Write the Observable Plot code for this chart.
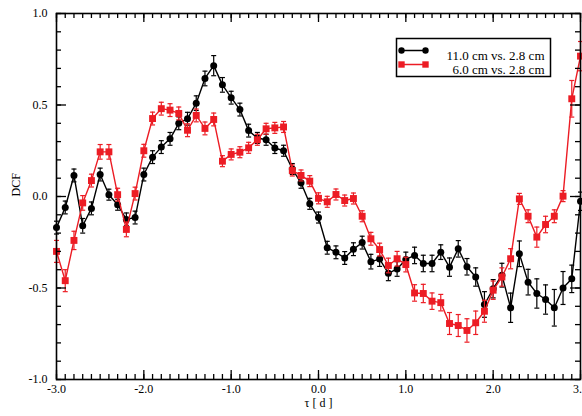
<!DOCTYPE html>
<html><head><meta charset="utf-8">
<script src="https://cdn.jsdelivr.net/npm/d3@7"></script>
<script src="https://cdn.jsdelivr.net/npm/@observablehq/plot@0.6"></script>
<style>
body{margin:0;background:#fff;}
#chart svg{font-family:'Liberation Serif', serif; font-size:12px;}
</style></head><body><div id="chart"></div>
<script>
const tau = [-3.0,-2.9,-2.8,-2.7,-2.6,-2.5,-2.4,-2.3,-2.2,-2.1,-2.0,-1.9,-1.8,-1.7,-1.6,-1.5,-1.4,-1.3,-1.2,-1.1,-1.0,-0.9,-0.8,-0.7,-0.6,-0.5,-0.4,-0.3,-0.2,-0.1,0.0,0.1,0.2,0.3,0.4,0.5,0.6,0.7,0.8,0.9,1.0,1.1,1.2,1.3,1.4,1.5,1.6,1.7,1.8,1.9,2.0,2.1,2.2,2.3,2.4,2.5,2.6,2.7,2.8,2.9,3.0];
const dcf11 = [-0.17,-0.06,0.115,-0.16,-0.065,0.12,0.01,-0.045,-0.125,-0.115,0.12,0.215,0.27,0.315,0.40,0.425,0.51,0.645,0.715,0.61,0.54,0.475,0.36,0.32,0.31,0.265,0.25,0.15,0.075,-0.04,-0.115,-0.28,-0.305,-0.336,-0.288,-0.252,-0.356,-0.342,-0.42,-0.396,-0.344,-0.322,-0.366,-0.366,-0.304,-0.386,-0.286,-0.384,-0.44,-0.59,-0.504,-0.43,-0.608,-0.313,-0.468,-0.53,-0.563,-0.608,-0.50,-0.45,-0.026];
const err11 = [0.035,0.035,0.035,0.04,0.035,0.035,0.03,0.03,0.035,0.035,0.035,0.035,0.035,0.035,0.035,0.035,0.04,0.04,0.055,0.04,0.035,0.035,0.035,0.03,0.03,0.03,0.03,0.03,0.03,0.03,0.03,0.035,0.035,0.035,0.035,0.035,0.04,0.04,0.04,0.04,0.04,0.045,0.045,0.045,0.04,0.05,0.045,0.045,0.05,0.07,0.05,0.065,0.08,0.07,0.07,0.08,0.08,0.1,0.09,0.075,0.05];
const dcf6 = [-0.30,-0.46,-0.24,-0.035,0.087,0.244,0.244,0.01,-0.18,0.016,0.25,0.426,0.48,0.472,0.454,0.362,0.443,0.372,0.421,0.193,0.23,0.242,0.266,0.31,0.37,0.375,0.38,0.142,0.115,0.084,-0.01,-0.029,0.011,-0.022,-0.011,-0.108,-0.231,-0.29,-0.377,-0.34,-0.372,-0.527,-0.53,-0.572,-0.58,-0.694,-0.705,-0.732,-0.69,-0.627,-0.512,-0.44,-0.34,-0.013,-0.108,-0.222,-0.153,-0.108,0.002,0.534,0.767];
const err6 = [0.06,0.06,0.05,0.04,0.035,0.04,0.04,0.035,0.04,0.035,0.035,0.035,0.035,0.035,0.035,0.035,0.035,0.035,0.035,0.03,0.03,0.03,0.03,0.03,0.03,0.03,0.03,0.03,0.03,0.03,0.03,0.03,0.03,0.03,0.03,0.03,0.035,0.035,0.04,0.04,0.04,0.045,0.05,0.045,0.045,0.06,0.06,0.064,0.064,0.06,0.05,0.05,0.055,0.03,0.035,0.055,0.045,0.035,0.03,0.1,0.08];
const seriesNames = ["11.0 cm vs. 2.8 cm", "6.0 cm vs. 2.8 cm"];
const xTickValues = [-3,-2,-1,0,1,2,3];
const xTickLabels = ["-3.0","-2.0","-1.0","0.0","1.0","2.0","3.0"];
const yTickValues = [1,0.5,0,-0.5,-1];
const yTickLabels = ["1.0","0.5","0.0","-0.5","-1.0"];
const xLabel = "τ [ d ]";
const yLabel = "DCF";

const BLACK = "black";
const RED = "#ec1c24";

const W = 582, H = 416, MT = 13, MR = 2, MB = 37, ML = 56;
const FW = W - ML - MR, FH = H - MT - MB;

const rows11 = tau.map((t,i)=>({tau:t, dcf:dcf11[i], err:err11[i]}));
const rows6 = tau.map((t,i)=>({tau:t, dcf:dcf6[i], err:err6[i]}));
const xMinor = d3.range(-30, 31).map(k=>k/10);
const yMinor = d3.range(-10, 11).map(k=>k/10);

const lineShape = {draw(ctx, l){ ctx.moveTo(0,0); ctx.lineTo(0,-l); }};
const capSymbol = {draw(ctx){ ctx.moveTo(-2.5,0); ctx.lineTo(2.5,0); }};

function errMarks(rows, color){
  return [
    Plot.ruleX(rows, {x:"tau", y1:d=>d.dcf-d.err, y2:d=>d.dcf+d.err, stroke:color, strokeWidth:1.2}),
    Plot.dot(rows, {x:"tau", y:d=>d.dcf+d.err, symbol:capSymbol, stroke:color, fill:"none", strokeWidth:1.2, r:3}),
    Plot.dot(rows, {x:"tau", y:d=>d.dcf-d.err, symbol:capSymbol, stroke:color, fill:"none", strokeWidth:1.2, r:3})
  ];
}
function xTicks(values, len){
  return [
    Plot.ruleX(values, {x:d=>d, insetTop:FH-len, stroke:"black", strokeWidth:1.3}),
    Plot.ruleX(values, {x:d=>d, insetBottom:FH-len, stroke:"black", strokeWidth:1.3})
  ];
}
function yTicks(values, len){
  return [
    Plot.ruleY(values, {y:d=>d, insetRight:FW-len, stroke:"black", strokeWidth:1.3}),
    Plot.ruleY(values, {y:d=>d, insetLeft:FW-len, stroke:"black", strokeWidth:1.3})
  ];
}

const chart = Plot.plot({
  width:W, height:H,
  marginTop:MT, marginRight:MR, marginBottom:MB, marginLeft:ML,
  x:{domain:[-3,3], axis:null},
  y:{domain:[-1,1], axis:null},
  marks:[
    Plot.text(xTickValues, {x:d=>d, text:(d,i)=>xTickLabels[i], frameAnchor:"bottom", dy:13, fill:"black"}),
    Plot.text(yTickValues, {y:d=>d, text:(d,i)=>yTickLabels[i], frameAnchor:"left", dx:-9, textAnchor:"end", fill:"black"}),
    Plot.text([xLabel], {frameAnchor:"bottom", dy:27, fill:"black"}),
    Plot.text([yLabel], {frameAnchor:"left", dx:-40, rotate:-90, fill:"black"}),
    // series 11.0 cm (black)
    ...errMarks(rows11, BLACK),
    Plot.line(rows11, {x:"tau", y:"dcf", stroke:BLACK, strokeWidth:1.4}),
    Plot.dot(rows11, {x:"tau", y:"dcf", r:3.5, fill:BLACK, stroke:"none"}),
    // series 6.0 cm (red)
    ...errMarks(rows6, RED),
    Plot.line(rows6, {x:"tau", y:"dcf", stroke:RED, strokeWidth:1.4}),
    Plot.dot(rows6, {x:"tau", y:"dcf", r:3.9, symbol:"square", fill:RED, stroke:"none"}),
    // legend
    Plot.frame({insetLeft:340, insetRight:30, insetTop:25, insetBottom:303, stroke:"black", strokeWidth:1.5}),
    Plot.vector([0], {frameAnchor:"top-left", dx:345, dy:37, anchor:"start", rotate:90, length:24, shape:lineShape, stroke:BLACK, strokeWidth:1.4}),
    Plot.dot([0], {frameAnchor:"top-left", dx:345, dy:37, r:3.2, fill:BLACK}),
    Plot.dot([0], {frameAnchor:"top-left", dx:369, dy:37, r:3.2, fill:BLACK}),
    Plot.vector([0], {frameAnchor:"top-left", dx:345, dy:51, anchor:"start", rotate:90, length:24, shape:lineShape, stroke:RED, strokeWidth:1.4}),
    Plot.dot([0], {frameAnchor:"top-left", dx:345, dy:51, r:3.6, symbol:"square", fill:RED}),
    Plot.dot([0], {frameAnchor:"top-left", dx:369, dy:51, r:3.6, symbol:"square", fill:RED}),
    Plot.text([seriesNames[0]], {frameAnchor:"top-left", dx:488, dy:37, textAnchor:"end", fill:"black", fontSize:13}),
    Plot.text([seriesNames[1]], {frameAnchor:"top-left", dx:488, dy:51, textAnchor:"end", fill:"black", fontSize:13}),
    // inward ticks on all four sides
    ...xTicks(xMinor, 5),
    ...xTicks(xTickValues, 9),
    ...yTicks(yMinor, 5),
    ...yTicks(yTickValues, 10),
    // frame
    Plot.frame({stroke:"black", strokeWidth:1.6})
  ]
});
document.getElementById("chart").appendChild(chart);
</script></body></html>
